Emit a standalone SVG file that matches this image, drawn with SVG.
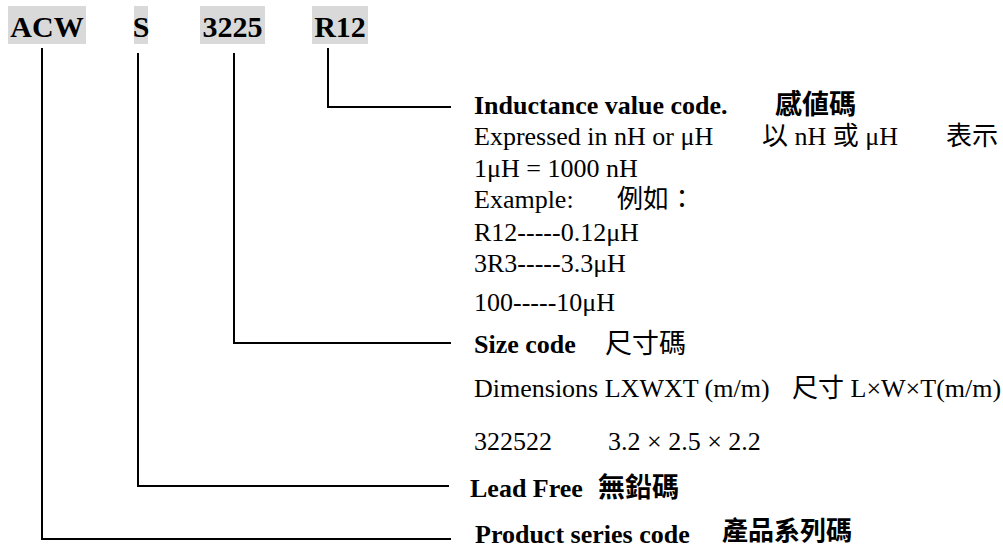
<svg xmlns="http://www.w3.org/2000/svg" width="1003" height="549" viewBox="0 0 1003 549">
<style>
.hl{fill:#d9d9d9}
.code{font-family:"Liberation Serif","Times New Roman",serif;font-size:30px;font-weight:bold;fill:#000;text-anchor:middle}
.t{font-family:"Liberation Serif","Noto Sans CJK TC",serif;font-size:26px;fill:#000}
.b{font-weight:bold}
.cj{font-family:"Noto Sans CJK TC","Noto Sans CJK JP",sans-serif;font-size:27px;fill:#000}
.cjb{font-weight:bold}
.ln{fill:none;stroke:#000;stroke-width:2}
</style>
<rect width="1003" height="549" fill="#fff"/>
<g id="code-acw"><rect class="hl" x="8" y="6" width="78" height="38"/><text class="code" x="47" y="37">ACW</text></g>
<g id="code-s"><rect class="hl" x="134" y="6" width="14" height="38"/><text class="code" x="141" y="37">S</text></g>
<g id="code-3225"><rect class="hl" x="200" y="6" width="65" height="38"/><text class="code" x="232.5" y="37">3225</text></g>
<g id="code-r12"><rect class="hl" x="312" y="6" width="56" height="38"/><text class="code" x="340" y="37">R12</text></g>
<g id="connectors">
<polyline class="ln" points="328,48 328,107 451,107"/>
<polyline class="ln" points="234,53 234,343 451,343"/>
<polyline class="ln" points="138,53 138,486 449,486"/>
<polyline class="ln" points="42,48 42,539 451,539"/>
</g>
<g id="desc-inductance">
<text class="t b" x="474" y="114">Inductance value code.</text>
<text class="cj cjb" x="775" y="114">感値碼</text>
<text class="t" x="474" y="145">Expressed in nH or μH</text>
<text class="t" x="762" y="145">以 nH 或 μH</text>
<text class="t" x="946" y="145">表示</text>
<text class="t" x="474" y="177">1μH = 1000 nH</text>
<text class="t" x="474" y="208">Example:</text>
<text class="t" x="617" y="208">例如：</text>
<text class="t" x="474" y="241">R12-----0.12μH</text>
<text class="t" x="474" y="272">3R3-----3.3μH</text>
<text class="t" x="474" y="311">100-----10μH</text>
</g>
<g id="desc-size">
<text class="t b" x="474" y="353">Size code</text>
<text class="cj" x="605" y="353">尺寸碼</text>
<text class="t" x="474" y="397">Dimensions LXWXT (m/m)</text>
<text class="t" x="792" y="397">尺寸 L×W×T(m/m)</text>
<text class="t" x="474" y="450">322522</text>
<text class="t" x="608" y="450">3.2 × 2.5 × 2.2</text>
</g>
<g id="desc-leadfree">
<text class="t b" x="470" y="497">Lead Free</text>
<text class="cj cjb" x="598" y="497">無鉛碼</text>
</g>
<g id="desc-series">
<text class="t b" x="475" y="543">Product series code</text>
<text class="cj cjb" x="722" y="540" style="font-size:26px">產品系列碼</text>
</g>
</svg>
